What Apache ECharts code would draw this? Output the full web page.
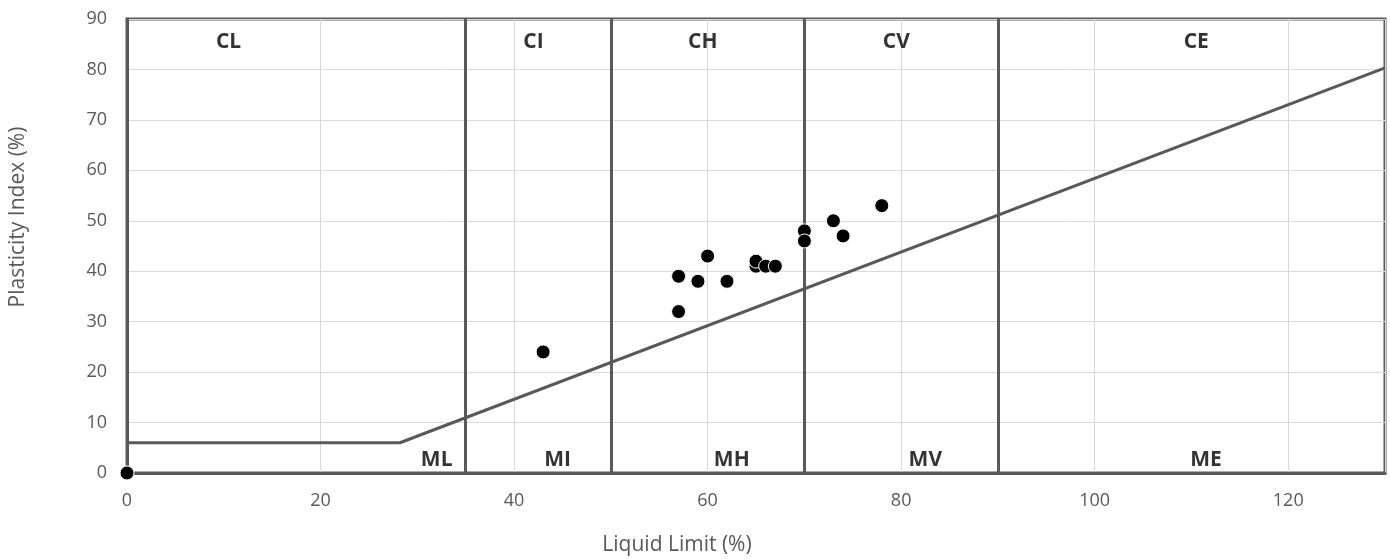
<!DOCTYPE html>
<html><head><meta charset="utf-8">
<script src="https://cdn.jsdelivr.net/npm/echarts@6/dist/echarts.min.js"></script>
<style>html,body{margin:0;padding:0;background:#fff}#c{width:1390px;height:559px}</style>
</head><body><div id="c"></div>
<script>
// Data
const samplesLL = [0, 43, 57, 57, 59, 60, 62, 65, 65, 66, 67, 70, 70, 73, 74, 78];
const samplesPI = [0, 24, 32, 39, 38, 43, 38, 41, 42, 41, 41, 48, 46, 50, 47, 53];
const zoneBoundariesLL = [35, 50, 70, 90];
const aLineLL = [0, 28.2, 130];
const aLinePI = [6, 6, 80.3];
const zoneNames = ['CL', 'CI', 'CH', 'CV', 'CE', 'ML', 'MI', 'MH', 'MV', 'ME'];
const zoneNameLL = [10.5, 42, 59.5, 79.5, 110.5, 32, 44.5, 62.5, 82.5, 111.5];
const zoneNamePI = [85.5, 85.5, 85.5, 85.5, 85.5, 2.6, 2.6, 2.6, 2.6, 2.6];
const xTicks = [0, 20, 40, 60, 80, 100, 120];
const yTicks = [0, 10, 20, 30, 40, 50, 60, 70, 80, 90];

const lineColor = '#595959';
const chart = echarts.init(document.getElementById('c'));
chart.setOption({
  animation: false,
  grid: { left: 127, right: 5, top: 19, bottom: 86, containLabel: false, outerBoundsMode: 'none',
    show: true, borderColor: lineColor, borderWidth: 3, backgroundColor: 'transparent' },
  xAxis: {
    type: 'value', min: 0, max: 130, interval: 20,
    name: 'Liquid Limit (%)', nameLocation: 'middle', nameGap: 62,
    nameTextStyle: { color: '#595959', fontSize: 21, fontFamily: 'Open Sans', padding: [0, 158, 0, 0] },
    axisLine: { show: true, lineStyle: { color: lineColor, width: 3 } },
    axisTick: { show: false },
    axisLabel: { color: '#595959', fontSize: 18, margin: 19, fontFamily: 'Open Sans',
      formatter: v => xTicks.includes(v) ? String(v) : '' },
    splitLine: { show: true, lineStyle: { color: '#d9d9d9', width: 1 } }
  },
  yAxis: {
    type: 'value', min: 0, max: 90, interval: 10,
    name: 'Plasticity Index (%)', nameLocation: 'middle', nameGap: 98,
    nameTextStyle: { color: '#595959', fontSize: 21, fontFamily: 'Open Sans', padding: [0, 0, 0, 58] },
    axisLine: { show: true, lineStyle: { color: lineColor, width: 3 } },
    axisTick: { show: false },
    axisLabel: { color: '#595959', fontSize: 18, margin: 20, fontFamily: 'Open Sans',
      formatter: v => yTicks.includes(v) ? String(v) : '' },
    splitLine: { show: true, lineStyle: { color: '#d9d9d9', width: 1 } }
  },
  series: [
    {
      type: 'line', symbol: 'none', silent: true,
      data: aLineLL.map((x, i) => [x, aLinePI[i]]),
      lineStyle: { color: lineColor, width: 3 },
      markLine: {
        symbol: 'none', silent: true, label: { show: false },
        lineStyle: { color: lineColor, width: 3, type: 'solid' },
        data: zoneBoundariesLL.map(x => ({ xAxis: x }))
      },
      z: 3
    },
    {
      type: 'scatter', symbolSize: 0, silent: true,
      data: zoneNames.map((n, i) => ({ value: [zoneNameLL[i], zoneNamePI[i]], name: n })),
      label: { show: true, position: 'inside', formatter: p => p.name,
        fontFamily: 'Open Sans', fontWeight: 'bold', fontSize: 21, color: '#000' },
      z: 4
    },
    {
      type: 'scatter', symbol: 'circle', symbolSize: 14, clip: false,
      data: samplesLL.map((x, i) => [x, samplesPI[i]]),
      itemStyle: { color: '#000', borderColor: '#fff', borderWidth: 1, opacity: 1 },
      z: 5
    }
  ]
});
</script></body></html>
